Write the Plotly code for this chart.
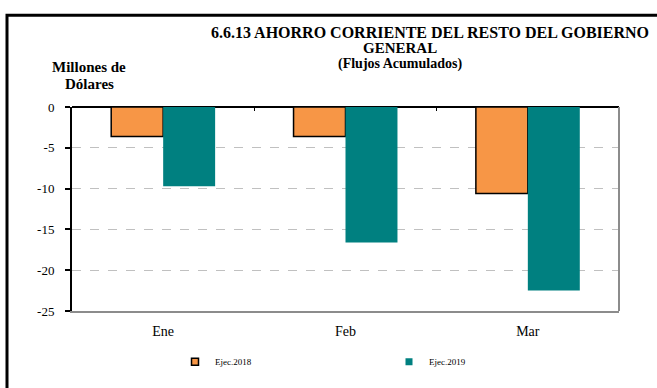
import plotly.graph_objects as go

# Accumulated current savings, millions of dollars
meses = ["Ene", "Feb", "Mar"]
ejec_2018 = [-3.6, -3.6, -10.6]
ejec_2019 = [-9.7, -16.6, -22.5]
y_ticks = [0, -5, -10, -15, -20, -25]

SERIF = "Liberation Serif"
ORANGE = "#F79646"
TEAL = "#008080"

# plot-area geometry in pixels, used to place paper-referenced text
L, R, T, B = 72, 619, 107, 316


def px_x(px):
    return (px - L) / (R - L)


def px_y(py):
    return (B - py) / (B - T)


fig = go.Figure()
fig.add_trace(go.Bar(
    x=meses, y=ejec_2018, name="Ejec.2018", showlegend=False,
    marker=dict(color=ORANGE, line=dict(color="black", width=1.5)),
))
fig.add_trace(go.Bar(
    x=meses, y=ejec_2019, name="Ejec.2019", showlegend=False,
    marker=dict(color=TEAL, line=dict(color=TEAL, width=0)),
))
# legend entries with small square keys
fig.add_trace(go.Scatter(
    x=[None], y=[None], name="Ejec.2018", mode="markers", legend="legend",
    marker=dict(symbol="square", size=7, color=ORANGE,
                line=dict(color="black", width=1.5)),
))
fig.add_trace(go.Scatter(
    x=[None], y=[None], name="Ejec.2019", mode="markers", legend="legend2",
    marker=dict(symbol="square", size=7, color=TEAL, line=dict(width=0)),
))
# helper trace so the top axis (category separators) is rendered
fig.add_trace(go.Scatter(
    x=meses, y=[None] * len(meses), xaxis="x2", showlegend=False,
    hoverinfo="skip", mode="markers",
))

legend_style = dict(
    orientation="h", yanchor="middle", xanchor="left", itemwidth=30,
    font=dict(family=SERIF, size=9, color="black"),
    bgcolor="rgba(0,0,0,0)", borderwidth=0,
    tracegroupgap=0,
)

fig.update_layout(
    width=657, height=388,
    margin=dict(l=L, r=657 - R, t=T, b=388 - B),
    paper_bgcolor="white", plot_bgcolor="white",
    barmode="group", bargap=0.43, bargroupgap=0.0,
    font=dict(family=SERIF, color="black", size=13),
    showlegend=True,
    legend=dict(x=px_x(175), y=px_y(368), **legend_style),
    legend2=dict(x=px_x(389), y=px_y(368), **legend_style),
    xaxis=dict(
        type="category", categoryarray=meses, range=[-0.5, 2.5],
        showline=True, linecolor="#8c8c8c", linewidth=1.5, mirror=False,
        ticks="", tickfont=dict(family=SERIF, size=14), showgrid=False,
        zeroline=False, ticklabelstandoff=6,
    ),
    xaxis2=dict(
        type="category", categoryarray=meses, range=[-0.5, 2.5],
        overlaying="x", side="top", showticklabels=False,
        ticks="inside", tickson="boundaries", ticklen=4, tickcolor="black",
        showline=False, showgrid=False, zeroline=False,
    ),
    yaxis=dict(
        range=[-25, 0], tickvals=y_ticks, ticktext=[str(v) for v in y_ticks],
        ticks="outside", ticklen=5, tickcolor="black", tickwidth=1.5,
        showline=True, linecolor="black", linewidth=2,
        showgrid=True, gridcolor="#c0c0c0", griddash="dash", gridwidth=1,
        zeroline=True, zerolinecolor="black", zerolinewidth=1.5,
        tickfont=dict(family=SERIF, size=13), ticklabelstandoff=8,
    ),
    shapes=[
        # outer chart frame
        dict(type="rect", xref="paper", yref="paper",
             x0=px_x(7), x1=px_x(700), y0=px_y(420), y1=px_y(13),
             line=dict(color="black", width=3), fillcolor="rgba(0,0,0,0)",
             layer="below"),
        # right edge of the plotting area
        dict(type="line", xref="paper", yref="paper", x0=1, x1=1, y0=0, y1=1,
             line=dict(color="#8c8c8c", width=2)),
    ],
    annotations=[
        dict(text="<b>6.6.13 AHORRO CORRIENTE DEL RESTO DEL GOBIERNO</b>",
             xref="paper", yref="paper", x=px_x(430), y=px_y(31),
             xanchor="center", yanchor="middle", showarrow=False,
             font=dict(family=SERIF, size=16, color="black")),
        dict(text="<b>GENERAL</b>",
             xref="paper", yref="paper", x=px_x(400), y=px_y(47),
             xanchor="center", yanchor="middle", showarrow=False,
             font=dict(family=SERIF, size=15, color="black")),
        dict(text="<b>(Flujos Acumulados)</b>",
             xref="paper", yref="paper", x=px_x(400), y=px_y(63),
             xanchor="center", yanchor="middle", showarrow=False,
             font=dict(family=SERIF, size=14, color="black")),
        dict(text="<b>Millones de</b>",
             xref="paper", yref="paper", x=px_x(89), y=px_y(66),
             xanchor="center", yanchor="middle", showarrow=False,
             font=dict(family=SERIF, size=15, color="black")),
        dict(text="<b>Dólares</b>",
             xref="paper", yref="paper", x=px_x(89), y=px_y(83),
             xanchor="center", yanchor="middle", showarrow=False,
             font=dict(family=SERIF, size=15, color="black")),
    ],
)

fig.write_html("out.html")
